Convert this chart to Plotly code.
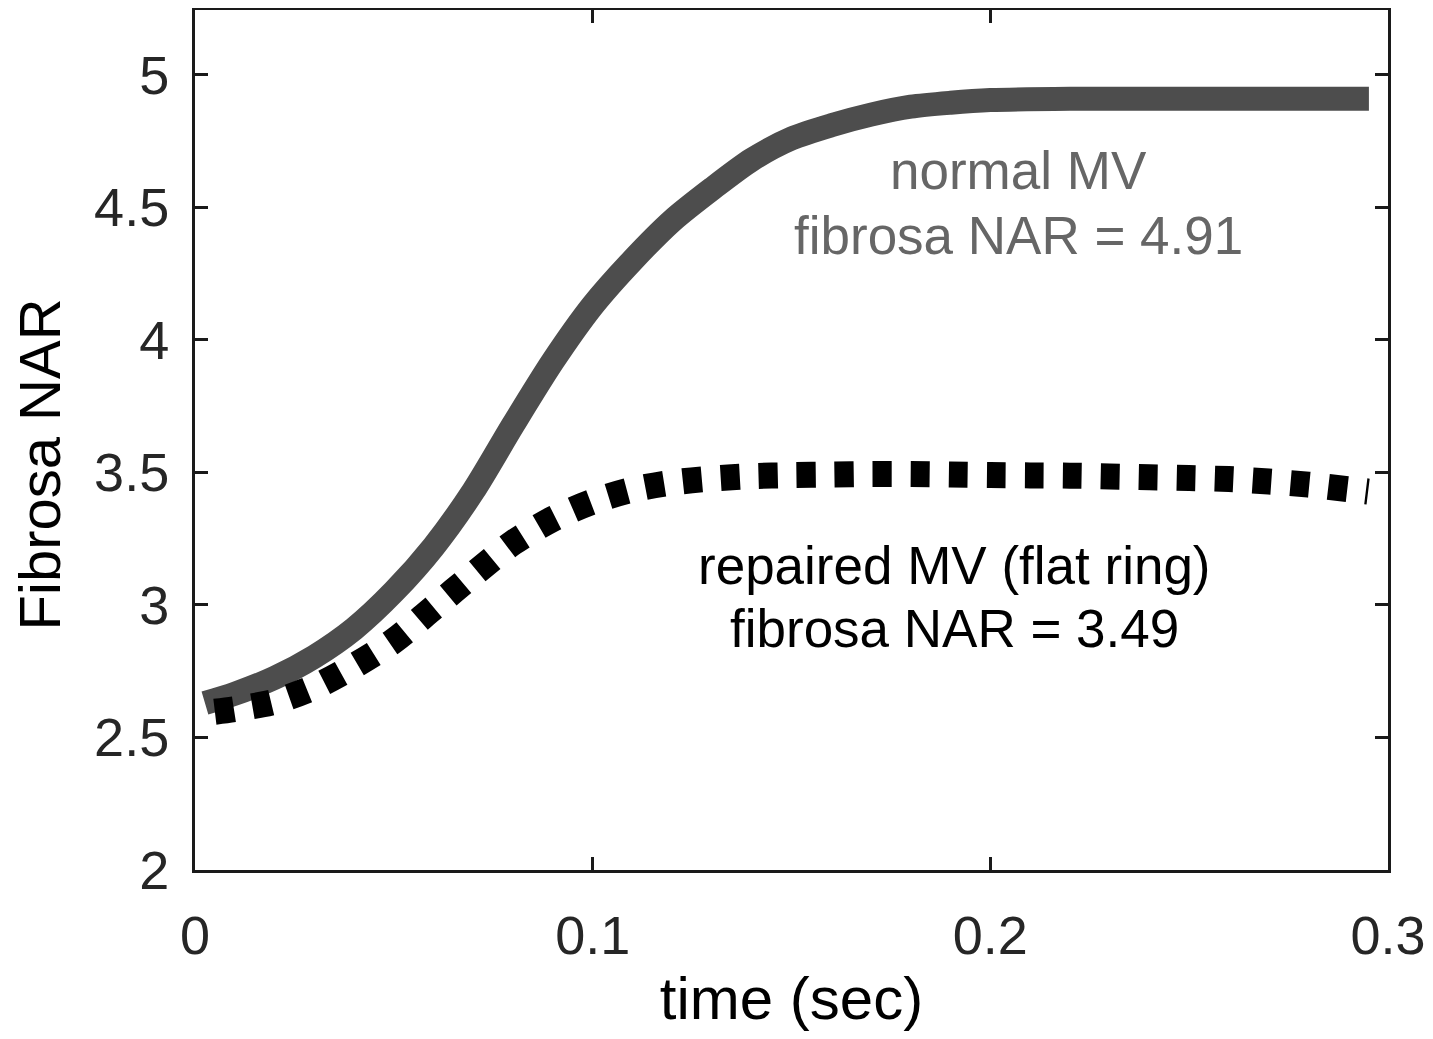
import plotly.graph_objects as go

# Normal MV (solid gray)
t_normal = [0.0025, 0.01, 0.02, 0.03, 0.04, 0.05, 0.06, 0.07, 0.08, 0.09, 0.10, 0.11,
            0.12, 0.13, 0.14, 0.15, 0.16, 0.17, 0.18, 0.19, 0.20, 0.22, 0.25, 0.2952]
nar_normal = [2.63, 2.665, 2.725, 2.805, 2.91, 3.05, 3.22, 3.43, 3.68, 3.92, 4.13, 4.30,
              4.45, 4.57, 4.68, 4.76, 4.81, 4.85, 4.88, 4.895, 4.905, 4.91, 4.91, 4.91]

# Repaired MV, flat ring (dotted black)
t_repaired = [0.005, 0.01, 0.02, 0.03, 0.04, 0.05, 0.06, 0.07, 0.08, 0.09, 0.10, 0.11, 0.12,
              0.13, 0.14, 0.15, 0.16, 0.17, 0.18, 0.19, 0.20, 0.21, 0.22, 0.23, 0.24,
              0.25, 0.26, 0.27, 0.28, 0.29, 0.295]
nar_repaired = [2.597, 2.607, 2.635, 2.69, 2.77, 2.865, 2.99, 3.115, 3.235, 3.325, 3.39, 3.435, 3.462,
                3.477, 3.486, 3.49, 3.492, 3.494, 3.494, 3.492, 3.49, 3.489, 3.488, 3.485, 3.482,
                3.479, 3.475, 3.466, 3.454, 3.437, 3.428]

x_ticks = [0, 0.1, 0.2, 0.3]
x_ticklabels = ["0", "0.1", "0.2", "0.3"]
y_ticks = [2, 2.5, 3, 3.5, 4, 4.5, 5]
y_ticklabels = ["2", "2.5", "3", "3.5", "4", "4.5", "5"]

font_family = "Liberation Sans, Arial, Helvetica, sans-serif"

fig = go.Figure()
fig.add_trace(go.Scatter(x=t_normal, y=nar_normal, mode="lines",
                         line=dict(color="#4d4d4d", width=24, shape="spline", smoothing=0.8),
                         showlegend=False))
fig.add_trace(go.Scatter(x=t_repaired, y=nar_repaired, mode="lines",
                         line=dict(color="#000000", width=26, dash="19px,19px", shape="spline",
                                   smoothing=0.8),
                         showlegend=False))

normal_lines = [("normal MV", 4.64), ("fibrosa NAR = 4.91", 4.396)]
for txt, yv in normal_lines:
    fig.add_annotation(x=0.2071, y=yv, xref="x", yref="y", text=txt, showarrow=False,
                       font=dict(family=font_family, size=53, color="#666666"))

repaired_lines = [("repaired MV (flat ring)", 3.149), ("fibrosa NAR = 3.49", 2.911)]
for txt, yv in repaired_lines:
    fig.add_annotation(x=0.191, y=yv, xref="x", yref="y", text=txt, showarrow=False,
                       font=dict(family=font_family, size=53, color="#000000"))

# y-axis title (placed as rotated text to match its vertical position)
fig.add_annotation(x=-0.13, y=3.53, xref="paper", yref="y", text="Fibrosa NAR",
                   textangle=-90, showarrow=False, xanchor="center", yanchor="middle",
                   borderpad=0,
                   font=dict(family=font_family, size=58, color="#000000"))

axis_common = dict(showline=True, mirror="ticks", linecolor="#1a1a1a", linewidth=3,
                   ticks="inside", ticklen=13, tickwidth=2.5, tickcolor="#1a1a1a",
                   showgrid=False, zeroline=False,
                   tickfont=dict(family=font_family, size=54, color="#262626"))

fig.update_xaxes(range=[0, 0.3], tickvals=x_ticks, ticktext=x_ticklabels,
                 title=dict(text="time (sec)", font=dict(family=font_family, size=60, color="#000000"),
                            standoff=14),
                 ticklabelstandoff=16,
                 **axis_common)
fig.update_yaxes(range=[2, 5.245], tickvals=y_ticks, ticktext=y_ticklabels,
                 ticklabelstandoff=12,
                 **axis_common)

fig.update_layout(width=1433, height=1039,
                  margin=dict(l=187, r=53, t=2, b=177, autoexpand=False),
                  paper_bgcolor="white", plot_bgcolor="white")

fig.write_html("out.html")
